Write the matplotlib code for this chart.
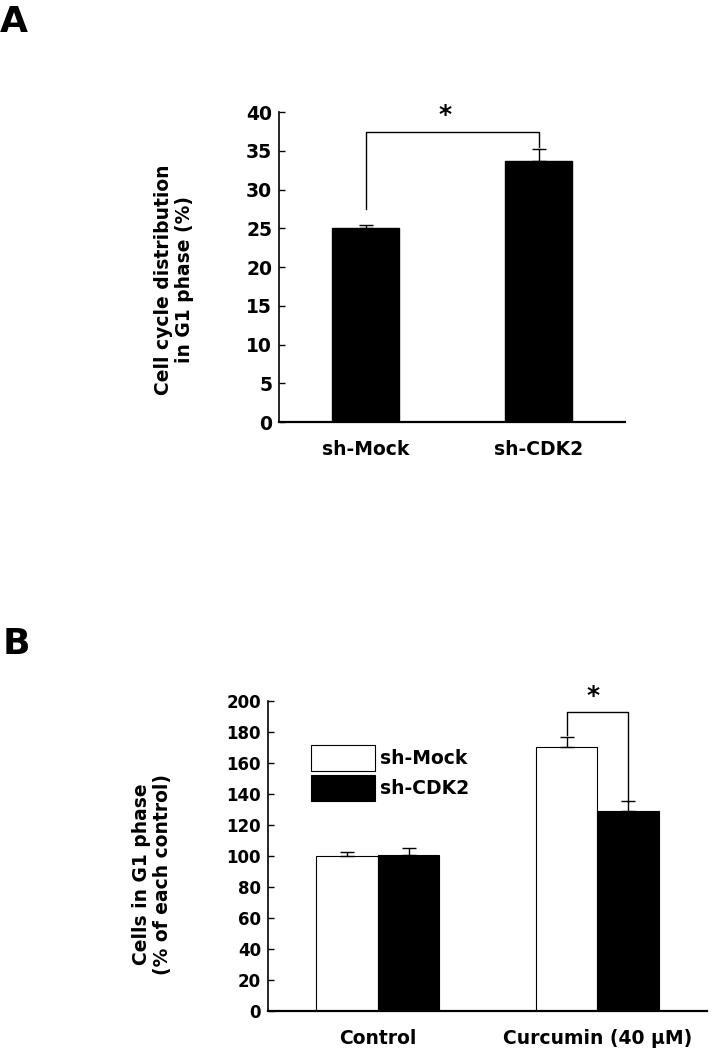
import numpy as np
import matplotlib
matplotlib.use('Agg')
import matplotlib.pyplot as plt

plt.rcParams['font.family'] = 'DejaVu Sans'
plt.rcParams['font.weight'] = 'bold'

# Panel A data
a_groups = ['sh-Mock', 'sh-CDK2']
a_means = [25.0, 33.7]
a_errs = [0.4, 1.5]
a_ticks = [0, 5, 10, 15, 20, 25, 30, 35, 40]

# Panel B data
b_groups = ['Control', 'Curcumin (40 \u03bcM)']
b_mock = [100.2, 170.5]
b_mock_err = [2.2, 6.5]
b_cdk2 = [100.6, 129.2]
b_cdk2_err = [4.4, 6.5]
b_ticks = [0, 20, 40, 60, 80, 100, 120, 140, 160, 180, 200]

fig = plt.figure(figsize=(7.14, 10.5), dpi=100)


def style_axes(ax, ticks, tick_size):
    ax.spines['top'].set_visible(False)
    ax.spines['right'].set_visible(False)
    ax.spines['left'].set_linewidth(1.2)
    ax.spines['bottom'].set_linewidth(1.6)
    ax.set_yticks(ticks)
    ax.tick_params(axis='y', direction='in', length=4, width=1,
                   labelsize=tick_size, pad=5)
    ax.tick_params(axis='x', length=0, labelsize=13.5, pad=13)
    for lab in ax.get_yticklabels() + ax.get_xticklabels():
        lab.set_fontweight('bold')


# ---- Panel A ----
axA = fig.add_axes([0.3908, 0.598, 0.4846, 0.2952])
xa = np.arange(len(a_groups))
axA.bar(xa, a_means, width=0.39, color='black', edgecolor='black')
axA.errorbar(xa, a_means, yerr=[np.zeros(len(a_errs)), a_errs], fmt='none',
             ecolor='black', elinewidth=1, capsize=5, capthick=1)
axA.set_xlim(-0.5, 1.5)
axA.set_ylim(0, 40)
axA.set_xticks(xa)
axA.set_xticklabels(a_groups)
style_axes(axA, a_ticks, 13.5)
axA.set_ylabel('Cell cycle distribution\nin G1 phase (%)', fontsize=13.5,
               fontweight='bold', linespacing=1.15)
axA.yaxis.set_label_coords(-0.246, 0.46)

# significance bracket
axA.plot([0, 0, 1, 1], [27.5, 37.5, 37.5, 35.5], color='black', lw=1,
         clip_on=False)
axA.text(0.46, 39.6, '*', ha='center', va='center', fontsize=18,
         fontweight='bold', clip_on=False)

# ---- Panel B ----
axB = fig.add_axes([0.3754, 0.0371, 0.6148, 0.2952])
xb = np.arange(len(b_groups))
w = 0.28
axB.bar(xb - w / 2, b_mock, width=w, color='white', edgecolor='black',
        linewidth=0.8, label='sh-Mock')
axB.bar(xb + w / 2, b_cdk2, width=w, color='black', edgecolor='black',
        linewidth=0.8, label='sh-CDK2')
axB.errorbar(xb - w / 2, b_mock, yerr=[np.zeros(2), b_mock_err], fmt='none',
             ecolor='black', elinewidth=1, capsize=5, capthick=1)
axB.errorbar(xb + w / 2, b_cdk2, yerr=[np.zeros(2), b_cdk2_err], fmt='none',
             ecolor='black', elinewidth=1, capsize=5, capthick=1)
axB.set_xlim(-0.5, 1.5)
axB.set_ylim(0, 200)
axB.set_xticks(xb)
axB.set_xticklabels(b_groups)
style_axes(axB, b_ticks, 12)
axB.set_ylabel('Cells in G1 phase\n(% of each control)', fontsize=13.5,
               fontweight='bold', linespacing=1.15)
axB.yaxis.set_label_coords(-0.219, 0.44)

# significance bracket
axB.plot([1 - w / 2, 1 - w / 2, 1 + w / 2, 1 + w / 2],
         [178, 192.7, 192.7, 135], color='black', lw=1, clip_on=False)
axB.text(0.98, 203, '*', ha='center', va='center', fontsize=18,
         fontweight='bold', clip_on=False)

leg = axB.legend(loc='upper left', bbox_to_anchor=(311 / 714, 1 - 745 / 1050),
                 bbox_transform=fig.transFigure, frameon=False, fontsize=13.5,
                 handlelength=3.4, handleheight=1.75, labelspacing=0.2,
                 handletextpad=0.3, borderpad=0, borderaxespad=0)
for t in leg.get_texts():
    t.set_fontweight('bold')

# panel letters
fig.text(0.0, 1 - 5 / 1050, 'A', fontsize=26, fontweight='bold',
         ha='left', va='top')
fig.text(0.004, 1 - 627 / 1050, 'B', fontsize=26, fontweight='bold',
         ha='left', va='top')

fig.savefig('out.png', dpi=100, facecolor='white')
